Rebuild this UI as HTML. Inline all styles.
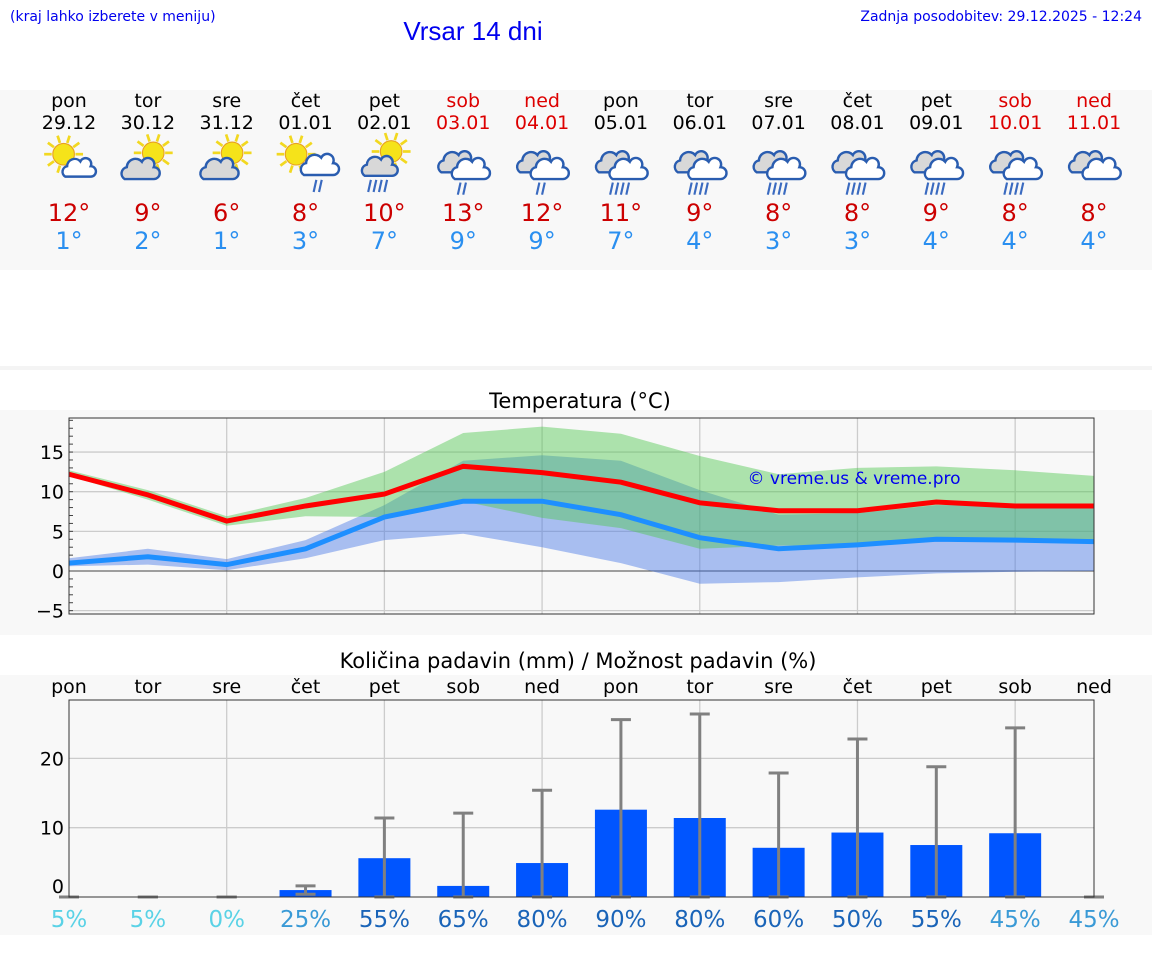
<!DOCTYPE html>
<html><head><meta charset="utf-8"><style>
body{margin:0;background:#fff;font-family:"Liberation Sans","DejaVu Sans",sans-serif;}
svg{display:block}
</style></head><body>
<svg id="s" width="1152" height="975" xmlns="http://www.w3.org/2000/svg" font-family="DejaVu Sans, Liberation Sans, sans-serif">
<rect x="0" y="90" width="1152" height="180" fill="#f8f8f8"/>
<rect x="0" y="366" width="1152" height="4" fill="#f4f4f4"/>
<rect x="0" y="410" width="1152" height="225" fill="#f8f8f8"/>
<rect x="0" y="675" width="1152" height="260" fill="#f8f8f8"/>
<text x="10" y="21" font-size="14" fill="#0000ee" font-family="DejaVu Sans, sans-serif">(kraj lahko izberete v meniju)</text>
<text x="473" y="40" font-size="26" fill="#0000ee" text-anchor="middle" font-family="Liberation Sans, sans-serif">Vrsar 14 dni</text>
<text x="1142" y="21" font-size="14" fill="#0000ee" text-anchor="end" font-family="DejaVu Sans, sans-serif">Zadnja posodobitev: 29.12.2025 - 12:24</text>
<g id="topg"></g>
<text x="580" y="408" font-size="21" text-anchor="middle">Temperatura (°C)</text>
<g id="temp"></g>
<text x="578" y="668" font-size="21" text-anchor="middle">Količina padavin (mm) / Možnost padavin (%)</text>
<g id="prec"></g>
</svg>
<script>
const days=['pon','tor','sre','čet','pet','sob','ned','pon','tor','sre','čet','pet','sob','ned'];
const dates=['29.12','30.12','31.12','01.01','02.01','03.01','04.01','05.01','06.01','07.01','08.01','09.01','10.01','11.01'];
const iconTypes=['sun-cloud','cloud-sun','cloud-sun','sun-rain','sun-rainheavy','cloud-rain','cloud-rain','cloud-rainheavy','cloud-rainheavy','cloud-rainheavy','cloud-rainheavy','cloud-rainheavy','cloud-rainheavy','cloud'];
const maxLabels=[12,9,6,8,10,13,12,11,9,8,8,9,8,8];
const minLabels=[1,2,1,3,7,9,9,7,4,3,3,4,4,4];
const tMax=[12.2,9.6,6.3,8.2,9.7,13.2,12.4,11.2,8.6,7.6,7.6,8.7,8.2,8.2];
const tMin=[1.0,1.8,0.8,2.8,6.8,8.8,8.8,7.1,4.2,2.8,3.3,4.0,3.9,3.7];
const maxHi=[12.7,10.2,6.9,9.2,12.5,17.4,18.2,17.3,14.5,12.2,13.0,13.2,12.7,12.0];
const maxLo=[12.0,9.0,5.7,6.9,6.8,8.8,6.7,5.4,2.8,3.2,3.3,3.8,3.9,3.8];
const minHi=[1.6,2.8,1.5,3.9,8.3,13.9,14.6,13.9,10.2,7.1,7.3,8.3,8.3,7.9];
const minLo=[0.6,0.8,0.1,1.6,3.9,4.7,3.0,1.0,-1.6,-1.4,-0.8,-0.3,-0.1,0];
const tTicks=[-5,0,5,10,15];
const precip=[0,0,0,1.0,5.6,1.6,4.9,12.6,11.4,7.1,9.3,7.5,9.2,0];
const pErrLo=[0,0,0,0.4,0,0,0,0,0,0,0,0,0,0];
const pErrHi=[0,0,0,1.6,11.4,12.1,15.4,25.6,26.4,17.9,22.8,18.8,24.4,0];
const chance=[5,5,0,25,55,65,80,90,80,60,50,55,45,45];
const pTicks=[0,10,20];
const NS='http://www.w3.org/2000/svg';
function mk(t,a,p){const e=document.createElementNS(NS,t);for(const k in a)e.setAttribute(k,a[k]);p.appendChild(e);return e;}
const cx=i=>69+i*(1025/13);
const weekend=i=>days[i]==='sob'||days[i]==='ned';
const TG=document.getElementById('topg');
function sun(g,x,y,r){for(let k=0;k<10;k++){const a=k*Math.PI/5;mk('line',{x1:x+Math.cos(a)*r*1.1,y1:y+Math.sin(a)*r*1.1,x2:x+Math.cos(a)*r*1.8,y2:y+Math.sin(a)*r*1.8,stroke:'#f2d820','stroke-width':2},g);}mk('circle',{cx:x,cy:y,r:r,fill:'#f5e31a',stroke:'#e8a020','stroke-width':0.8},g);}
function cloud(g,x,y,s,fill){const d=`M${x-14*s} ${y+8*s} a${6*s} ${6*s} 0 0 1 ${2*s} ${-11*s} a${8*s} ${8*s} 0 0 1 ${14*s} ${-5*s} a${6*s} ${6*s} 0 0 1 ${11*s} ${5*s} a${5.5*s} ${5.5*s} 0 0 1 ${0} ${11*s} z`;mk('path',{d:d,fill:fill,stroke:'#2a5db0','stroke-width':1.8},g);}
function rain(g,x,y,n){for(let k=0;k<n;k++){mk('line',{x1:x+k*4-n*2+2,y1:y,x2:x+k*4-n*2,y2:y+9,stroke:'#3a6ac0','stroke-width':1.6},g);}}
for(let i=0;i<14;i++){
 const x=cx(i);const col=weekend(i)?'#dd0000':'#000';
 const d=mk('text',{x:x,y:107,'font-size':19,'text-anchor':'middle',fill:col},TG);d.textContent=days[i];
 
 
 const dt=mk('text',{x:x,y:129,'font-size':19,'text-anchor':'middle',fill:col},TG);dt.textContent=dates[i];
 
 
 const g=mk('g',{transform:`translate(${x},165) scale(1.35) translate(${-x},-165)`},TG);
 
 
 const t=iconTypes[i];
 if(t==='sun-cloud'){sun(g,x-4,157,8);cloud(g,x+7,168,0.7,'#fff');}
 else if(t==='cloud-sun'){sun(g,x+4,156,8);cloud(g,x-6,169,0.8,'#d8d8d8');}
 else if(t==='sun-rain'){sun(g,x-7,157,8);cloud(g,x+10,166,0.8,'#fff');rain(g,x+10,176,2);}
 else if(t==='sun-rainheavy'){sun(g,x+5,155,8);cloud(g,x-4,167,0.75,'#d8d8d8');rain(g,x-4,176,4);}
 else {cloud(g,x-5,164,0.8,'#d8d8d8');cloud(g,x+5,169,0.8,'#fff');if(t!=='cloud')rain(g,x,178,t==='cloud-rain'?2:4);}
 const mx=mk('text',{x:x,y:221,'font-size':24,'text-anchor':'middle',fill:'#cc0000'},TG);mx.textContent=maxLabels[i]+'°';
 
 
 const mn=mk('text',{x:x,y:249,'font-size':24,'text-anchor':'middle',fill:'#2a8ff0'},TG);mn.textContent=minLabels[i]+'°';
 
 
}
const T=document.getElementById('temp');
const L=69,R=1094,TT=418,TB=614;
const ty=v=>571-v*7.93;
mk('rect',{x:L,y:TT,width:R-L,height:TB-TT,fill:'#f8f8f8'},T);
for(let i=2;i<14;i+=2)mk('line',{x1:cx(i),y1:TT,x2:cx(i),y2:TB,stroke:'#ccc','stroke-width':1.3},T);
tTicks.forEach(v=>{mk('line',{x1:L,y1:ty(v),x2:R,y2:ty(v),stroke:v===0?'#444':'#ccc','stroke-width':v===0?1:1.3},T);
 const tl=mk('text',{x:L-5,y:ty(v)+7,'font-size':19,'text-anchor':'end'},T);tl.textContent=v<0?'−'+(-v):v;
 
 });
for(let v=-5;v<=19;v++)mk('line',{x1:L,y1:ty(v),x2:L+4,y2:ty(v),stroke:'#444','stroke-width':1},T);
function band(hi,lo,fill){let p=hi.map((v,i)=>cx(i)+','+ty(v));for(let i=13;i>=0;i--)p.push(cx(i)+','+ty(lo[i]));return mk('polygon',{points:p.join(' '),fill:fill},T);}
const b1=band(minHi,minLo,'rgba(70,120,230,0.45)');


const b2=band(maxHi,maxLo,'rgba(80,200,80,0.45)');


const l1=mk('polyline',{points:tMin.map((v,i)=>cx(i)+','+ty(v)).join(' '),fill:'none',stroke:'#1e8fff','stroke-width':5},T);


const l2=mk('polyline',{points:tMax.map((v,i)=>cx(i)+','+ty(v)).join(' '),fill:'none',stroke:'#ff0000','stroke-width':5},T);


mk('rect',{x:L,y:TT,width:R-L,height:TB-TT,fill:'none',stroke:'#333','stroke-width':1},T);
const cp=mk('text',{x:854,y:484,'font-size':17,'text-anchor':'middle',fill:'#0000ee'},T);cp.textContent='© vreme.us & vreme.pro';


const P=document.getElementById('prec');
const PT=700,PB=897;
const py=v=>897-v*6.93;
mk('rect',{x:L,y:PT,width:R-L,height:PB-PT,fill:'#f8f8f8'},P);
for(let i=2;i<14;i+=2)mk('line',{x1:cx(i),y1:PT,x2:cx(i),y2:PB,stroke:'#ccc','stroke-width':1.3},P);
pTicks.forEach(v=>{if(v>0)mk('line',{x1:L,y1:py(v),x2:R,y2:py(v),stroke:'#ccc','stroke-width':1.3},P);
 const tl=mk('text',{x:L-5,y:py(v)+(v===0?-4:7),'font-size':19,'text-anchor':'end'},P);tl.textContent=v;
 
 });
for(let i=0;i<14;i++){
 const x=cx(i);
 const dl=mk('text',{x:x,y:693,'font-size':19,'text-anchor':'middle'},P);dl.textContent=days[i];
 
 
 if(precip[i]>0){const b=mk('rect',{x:x-26,y:py(precip[i]),width:52,height:PB-py(precip[i]),fill:'#0055ff'},P);
  
  }
 const e=mk('g',{stroke:'#808080','stroke-width':3},P);
 
 
 mk('line',{x1:x,y1:py(pErrLo[i]),x2:x,y2:py(pErrHi[i])},e);
 mk('line',{x1:x-10,y1:py(pErrHi[i]),x2:x+10,y2:py(pErrHi[i])},e);
 mk('line',{x1:x-10,y1:py(pErrLo[i]),x2:x+10,y2:py(pErrLo[i])},e);
 const c=chance[i];const col=c<=5?'#5ad2e6':(c<50?'#3a9ad6':'#1a64b8');
 const pl=mk('text',{x:x,y:927,'font-size':23,'text-anchor':'middle',fill:col},P);pl.textContent=c+'%';
 
 
}
mk('rect',{x:L,y:PT,width:R-L,height:PB-PT,fill:'none',stroke:'#333','stroke-width':1},P);
</script>
</body></html>
